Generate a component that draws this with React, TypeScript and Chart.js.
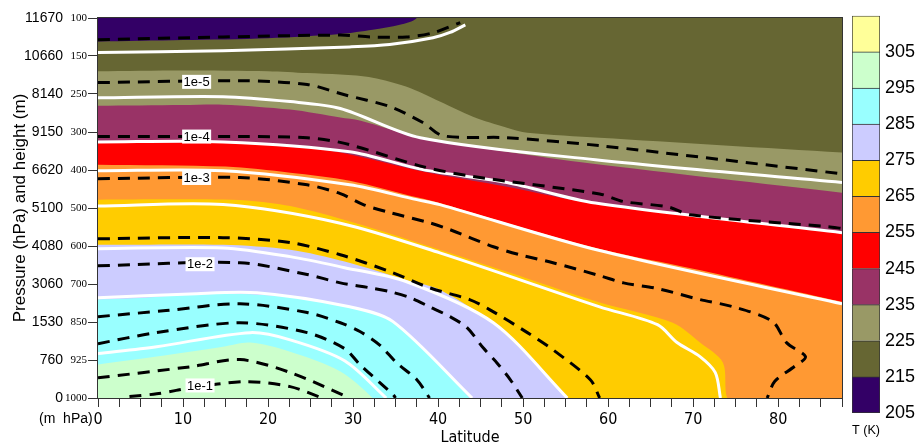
import React, { useEffect, useRef } from 'react';
import { Chart, registerables } from 'chart.js';
Chart.register(...registerables);

// ---------- axis labels ----------
const pressureLabels = ['1000', '925', '850', '700', '600', '500', '400', '300', '250', '150', '100'];
const heightLabels = ['0', '760', '1530', '3060', '4080', '5100', '6620', '9150', '8140', '10660', '11670'];
const latMax = 87.5;

// ---------- colour bar ----------
const bandLevels = [205, 215, 225, 235, 245, 255, 265, 275, 285, 295, 305];
const bandColors = ['#330066', '#666633', '#999966', '#993366', '#ff0000', '#ff9933', '#ffcc00', '#ccccff', '#99ffff', '#ccffcc', '#ffff99'];

// ---------- isotherms (filled boundaries), [latitude, level index] ----------
const isoTop = [[0, 10], [87.5, 10]];
const iso215 = [[0, 9.38], [10, 9.42], [20, 9.47], [28.5, 9.58], [32.3, 9.69], [35.5, 9.82], [37.5, 10], [38.5, 10.5], [87.5, 10.5]];
const iso225 = [[0, 8.6], [10, 8.62], [20, 8.6], [24.6, 8.55], [28.5, 8.51], [32.3, 8.43], [36.3, 8.19], [40.2, 7.8], [44.1, 7.4], [48.1, 7.11], [50.5, 6.98], [59, 6.85], [87.5, 6.46]];
const iso235 = [[0, 7.69], [10, 7.71], [14.7, 7.72], [22.6, 7.59], [28.5, 7.38], [30.8, 7.3], [37.9, 6.85], [48.1, 6.48], [58, 6.17], [87.5, 5.4]];
const iso245 = [[0, 6.72], [15, 6.72], [22.6, 6.61], [28.5, 6.46], [38.2, 5.96], [48.1, 5.56], [58.5, 5.11], [87.5, 4.35]];
const iso255 = [[0, 6.14], [15, 6.09], [22.6, 5.93], [29.6, 5.72], [37.5, 5.28], [40.2, 5.13], [48.1, 4.6], [59, 3.92], [70, 3.4], [87.5, 2.53]];
const iso265 = [[0, 5.22], [10, 5.23], [17.5, 5.2], [22.6, 5.05], [28.5, 4.72], [34, 4.35], [40.2, 3.9], [48.1, 3.32], [59, 2.51], [67.6, 1.98], [70.8, 1.46], [73.5, 0.93], [74, 0], [76, -0.5], [87.5, -0.5]];
const iso275 = [[0, 4.03], [14.7, 4.03], [22.6, 3.9], [29, 3.59], [36.3, 3.1], [40.2, 2.85], [46.9, 1.88], [55.2, 0], [57, -0.5], [87.5, -0.5]];
const iso285 = [[0, 2.59], [5, 2.63], [10.8, 2.72], [18.7, 2.72], [24.6, 2.6], [29.6, 2.4], [34.7, 2.01], [43.7, 0], [45, -0.5], [87.5, -0.5]];
const iso295 = [[0, 0.88], [6.9, 1.09], [14.7, 1.35], [17.9, 1.46], [22.6, 1.22], [28.5, 0.7], [32.3, 0], [34, -0.5], [87.5, -0.5]];

// ---------- white contour lines ----------
const white1 = [[0, 9.09], [14.7, 9.14], [29.6, 9.24], [34.3, 9.3], [39.4, 9.48], [41.4, 9.62], [43.2, 9.82]];
const white2 = [[0, 7.9], [14.7, 7.93], [22.6, 7.8], [28.5, 7.62], [37.9, 6.85], [58.5, 6.27], [87.5, 5.67]];
const white3 = [[0, 6.74], [14.7, 6.74], [29.6, 6.48], [38.2, 6.01], [48.1, 5.67], [58.5, 5.13], [87.5, 4.35]];
const white4 = [[0, 5.98], [14.7, 5.98], [29.6, 5.61], [37.5, 5.22], [40.2, 5.09], [59, 3.88], [87.5, 2.48]];
const white5 = [[0, 5.05], [14.7, 5.09], [28.5, 4.6], [40.2, 3.82], [59, 2.4], [65.8, 1.93], [68.1, 1.46], [70.8, 1.09], [72.6, 0.67], [73.2, 0]];
const white6 = [[0, 3.93], [14.7, 3.95], [22.6, 3.72], [29, 3.43], [36.3, 3.06], [46.5, 1.98], [55.2, 0]];
const white7 = [[0, 2.64], [10.8, 2.74], [18.7, 2.77], [29.6, 2.4], [34.7, 2.01], [44, 0]];
const white8 = [[0, 1.17], [6.9, 1.35], [17.9, 1.72], [22.6, 1.53], [29, 0.98], [33.9, 0]];

// ---------- dashed (humidity) contour lines ----------
const dash1 = [[0, 9.43], [14.7, 9.5], [28.5, 9.55], [32.3, 9.5], [36.3, 9.5], [39.4, 9.61], [42.6, 9.88]];
const dash2 = [[0, 8.3], [16.7, 8.35], [24.6, 8.25], [29, 7.98], [34.3, 7.67], [38.2, 7.25], [40.6, 6.9], [48.1, 6.85], [59, 6.64], [87.5, 5.9]];
const dash3 = [[0, 6.88], [16.7, 6.88], [24.6, 6.85], [29, 6.7], [38.2, 6.09], [44.1, 5.83], [59, 5.37], [61.8, 5.17], [67, 5.03], [69.7, 4.82], [85.8, 4.51], [87.5, 4.46]];
const dash4 = [[0, 5.77], [16.7, 5.8], [24.6, 5.61], [28.5, 5.38], [31.2, 5.09], [34.3, 4.88], [39, 4.61], [41.4, 4.43], [46.5, 3.98], [49.6, 3.77], [53.5, 3.56], [59, 3.22], [61.8, 3.03], [65.8, 2.88], [70.8, 2.59], [74.7, 2.4], [79.3, 2.02], [81, 1.45], [83.2, 1.09], [81.9, 0.83], [79.6, 0.44], [78.7, 0]];
const dash5 = [[0, 4.19], [14.7, 4.22], [22.6, 4.09], [28.5, 3.77], [34.3, 3.33], [39, 2.9], [43.7, 2.59], [46.1, 2.32], [50.5, 1.72], [53.5, 1.27], [57.9, 0.48], [59, 0]];
const dash6 = [[0, 3.48], [16.7, 3.56], [24.6, 3.25], [28.5, 3.03], [32, 2.9], [34.3, 2.8], [36.7, 2.64], [39, 2.4], [41.4, 2.14], [43.4, 1.85], [45.3, 1.32], [46.9, 0.93], [48.5, 0.48], [49.9, 0]];
const dash7 = [[0, 2.14], [8, 2.3], [16.7, 2.48], [24.6, 2.25], [28.5, 1.98], [30.8, 1.75], [33.1, 1.4], [35.1, 0.93], [37.5, 0.48], [39, 0]];
const dash8 = [[0, 1.43], [6.9, 1.72], [16.7, 1.98], [24.6, 1.72], [29, 1.3], [30.8, 0.88], [34.7, 0.09], [35, 0]];
const dash9 = [[0, 0.53], [10.8, 0.82], [16.7, 1.01], [22.6, 0.67], [29.6, 0]];
const dash10 = [[3.7, 0.04], [6.9, 0.11], [9.2, 0.2], [10.8, 0.27], [17.5, 0.43], [22.6, 0.3], [26.4, 0]];

// ---------- contour labels ----------
const labelTexts = ['1e-5', '1e-4', '1e-3', '1e-2', '1e-1'];
const labelLats = [11.6, 11.6, 11.6, 12, 12];
const labelLevels = [8.32, 6.88, 5.79, 3.52, 0.33];

const SANS = '"Liberation Sans", Arial, Helvetica, sans-serif';
const SERIF = '"Liberation Serif", "Times New Roman", serif';
const NARROW = '"Liberation Sans Narrow", "Arial Narrow", "DejaVu Sans Condensed", sans-serif';
const TENSION = 0.3;

const toPts = (arr: number[][]) => arr.map(([x, y]) => ({ x, y }));

const framePlugin = {
  id: 'frameAndLabels',
  afterDatasetsDraw(chart: any) {
    const { ctx, chartArea, scales } = chart;
    const xs = scales.x;
    const ys = scales.yp;
    ctx.save();
    ctx.font = '13px ' + SANS;
    ctx.textAlign = 'center';
    ctx.textBaseline = 'middle';
    labelTexts.forEach((t, i) => {
      const px = xs.getPixelForValue(labelLats[i]);
      const py = ys.getPixelForValue(labelLevels[i]);
      const w = ctx.measureText(t).width + 3;
      ctx.fillStyle = '#ffffff';
      ctx.fillRect(px - w / 2, py - 7, w, 14);
      ctx.fillStyle = '#000000';
      ctx.fillText(t, px, py + 0.5);
    });
    ctx.strokeStyle = '#333333';
    ctx.lineWidth = 1;
    ctx.strokeRect(chartArea.left - 0.5, chartArea.top - 0.5, chartArea.right - chartArea.left + 1, chartArea.bottom - chartArea.top + 1);
    ctx.restore();
  },
};

export default function App() {
  const mainRef = useRef<HTMLCanvasElement>(null);
  const barRef = useRef<HTMLCanvasElement>(null);

  useEffect(() => {
    const fills = [iso295, iso285, iso275, iso265, iso255, iso245, iso235, iso225, iso215, isoTop];
    const fillColors = ['#ccffcc', '#99ffff', '#ccccff', '#ffcc00', '#ff9933', '#ff0000', '#993366', '#999966', '#666633', '#330066'];
    const whites = [white1, white2, white3, white4, white5, white6, white7, white8];
    const dashes = [dash1, dash2, dash3, dash4, dash5, dash6, dash7, dash8, dash9, dash10];

    const datasets: any[] = [];
    dashes.forEach((d) => datasets.push({
      data: toPts(d), xAxisID: 'x', yAxisID: 'yp', fill: false, borderColor: '#000000', borderWidth: 3,
      borderDash: [12, 8], pointRadius: 0, tension: TENSION,
    }));
    whites.forEach((d) => datasets.push({
      data: toPts(d), xAxisID: 'x', yAxisID: 'yp', fill: false, borderColor: '#ffffff', borderWidth: 3,
      pointRadius: 0, tension: TENSION,
    }));
    fills.forEach((d, i) => datasets.push({
      data: toPts(d), xAxisID: 'x', yAxisID: 'yp', fill: 'start', backgroundColor: fillColors[i],
      borderColor: 'transparent', borderWidth: 0, pointRadius: 0, tension: TENSION,
    }));

    const main = new Chart(mainRef.current as HTMLCanvasElement, {
      type: 'line',
      data: { datasets },
      options: {
        responsive: false,
        animation: false,
        devicePixelRatio: 1,
        events: [],
        layout: { padding: { top: 18, right: 8, left: 0, bottom: 0 } },
        plugins: { legend: { display: false }, tooltip: { enabled: false }, filler: { propagate: false } },
        scales: {
          x: {
            type: 'linear', position: 'bottom', min: 0, max: latMax,
            ticks: {
              stepSize: 2.5, autoSkip: false, maxRotation: 0, minRotation: 0, padding: 3, color: '#000',
              font: { family: NARROW, size: 16 },
              callback: (v: any) => (Math.abs(Number(v) % 10) < 1e-6 ? String(Math.round(Number(v))) : ''),
            },
            grid: { display: true, drawOnChartArea: false, drawTicks: true, tickLength: 9, color: '#333' },
            border: { display: true, color: '#333' },
            title: { display: true, text: 'Latitude', color: '#000', font: { family: NARROW, size: 16, lineHeight: 0.8 }, padding: { top: 0, bottom: 0 } },
            afterFit: (s: any) => { s.height = 46; },
          },
          yp: {
            type: 'linear', position: 'left', weight: 0, min: 0, max: 10,
            afterBuildTicks: (a: any) => { a.ticks = pressureLabels.map((_, i) => ({ value: i })); },
            ticks: { color: '#000', padding: 1, font: { family: SERIF, size: 11 }, callback: (v: any) => pressureLabels[Math.round(Number(v))] },
            grid: { display: true, drawOnChartArea: false, drawTicks: true, tickLength: 10, color: '#333' },
            border: { display: true, color: '#333' },
            afterFit: (s: any) => { s.width = 34; },
          },
          yh: {
            type: 'linear', position: 'left', weight: 1, min: 0, max: 10,
            afterBuildTicks: (a: any) => { a.ticks = heightLabels.map((_, i) => ({ value: i })); },
            ticks: { color: '#000', padding: 1, font: { family: SANS, size: 14 }, callback: (v: any) => heightLabels[Math.round(Number(v))] },
            grid: { display: false, drawTicks: false },
            border: { display: false },
            title: { display: true, text: 'Pressure (hPa) and height (m)', color: '#000', font: { family: SANS, size: 17 }, padding: { top: 10, bottom: 0 } },
            afterFit: (s: any) => { s.width = 64; },
          },
        },
      } as any,
      plugins: [framePlugin],
    });

    const bar = new Chart(barRef.current as HTMLCanvasElement, {
      type: 'bar',
      data: {
        labels: [''],
        datasets: bandColors.map((c, i) => ({
          data: [[bandLevels[i], bandLevels[i] + 10]],
          backgroundColor: c,
          borderColor: '#333333',
          borderWidth: { left: 1, right: 1, top: 1, bottom: i === 0 ? 1 : 0 },
          borderSkipped: false,
          barPercentage: 1,
          categoryPercentage: 1,
          grouped: false,
        })) as any,
      },
      options: {
        responsive: false,
        animation: false,
        devicePixelRatio: 1,
        events: [],
        layout: { padding: { left: 12, top: 11, right: 0, bottom: 0 } },
        plugins: { legend: { display: false }, tooltip: { enabled: false } },
        scales: {
          x: {
            type: 'category',
            ticks: { display: false },
            grid: { display: false, drawTicks: false },
            border: { display: false },
            title: { display: true, text: 'T (K)', color: '#000', font: { family: SANS, size: 13 }, padding: { top: 0, bottom: 6 } },
            afterFit: (s: any) => { s.height = 31; },
          },
          y: {
            type: 'linear', position: 'right', min: 205, max: 315,
            afterBuildTicks: (a: any) => { a.ticks = bandLevels.map((v) => ({ value: v })); },
            ticks: { color: '#000', padding: 5, font: { family: SANS, size: 18 } },
            grid: { display: false, drawTicks: false },
            border: { display: false },
            afterFit: (s: any) => { s.width = 40; },
          },
        },
      } as any,
    });

    return () => { main.destroy(); bar.destroy(); };
  }, []);

  return (
    <div style={{ position: 'fixed', left: 0, top: 0, width: 920, height: 444, background: '#ffffff', overflow: 'hidden' }}>
      <canvas ref={mainRef} width={850} height={444} style={{ position: 'absolute', left: 0, top: 0, width: 850, height: 444 }} />
      <canvas ref={barRef} width={80} height={444} style={{ position: 'absolute', left: 840, top: 0, width: 80, height: 444 }} />
      <div style={{ position: 'absolute', left: 39, top: 409, font: '14px "Liberation Sans", Arial, sans-serif', lineHeight: '18px', whiteSpace: 'pre', color: '#000' }}>(m  hPa)</div>
    </div>
  );
}
